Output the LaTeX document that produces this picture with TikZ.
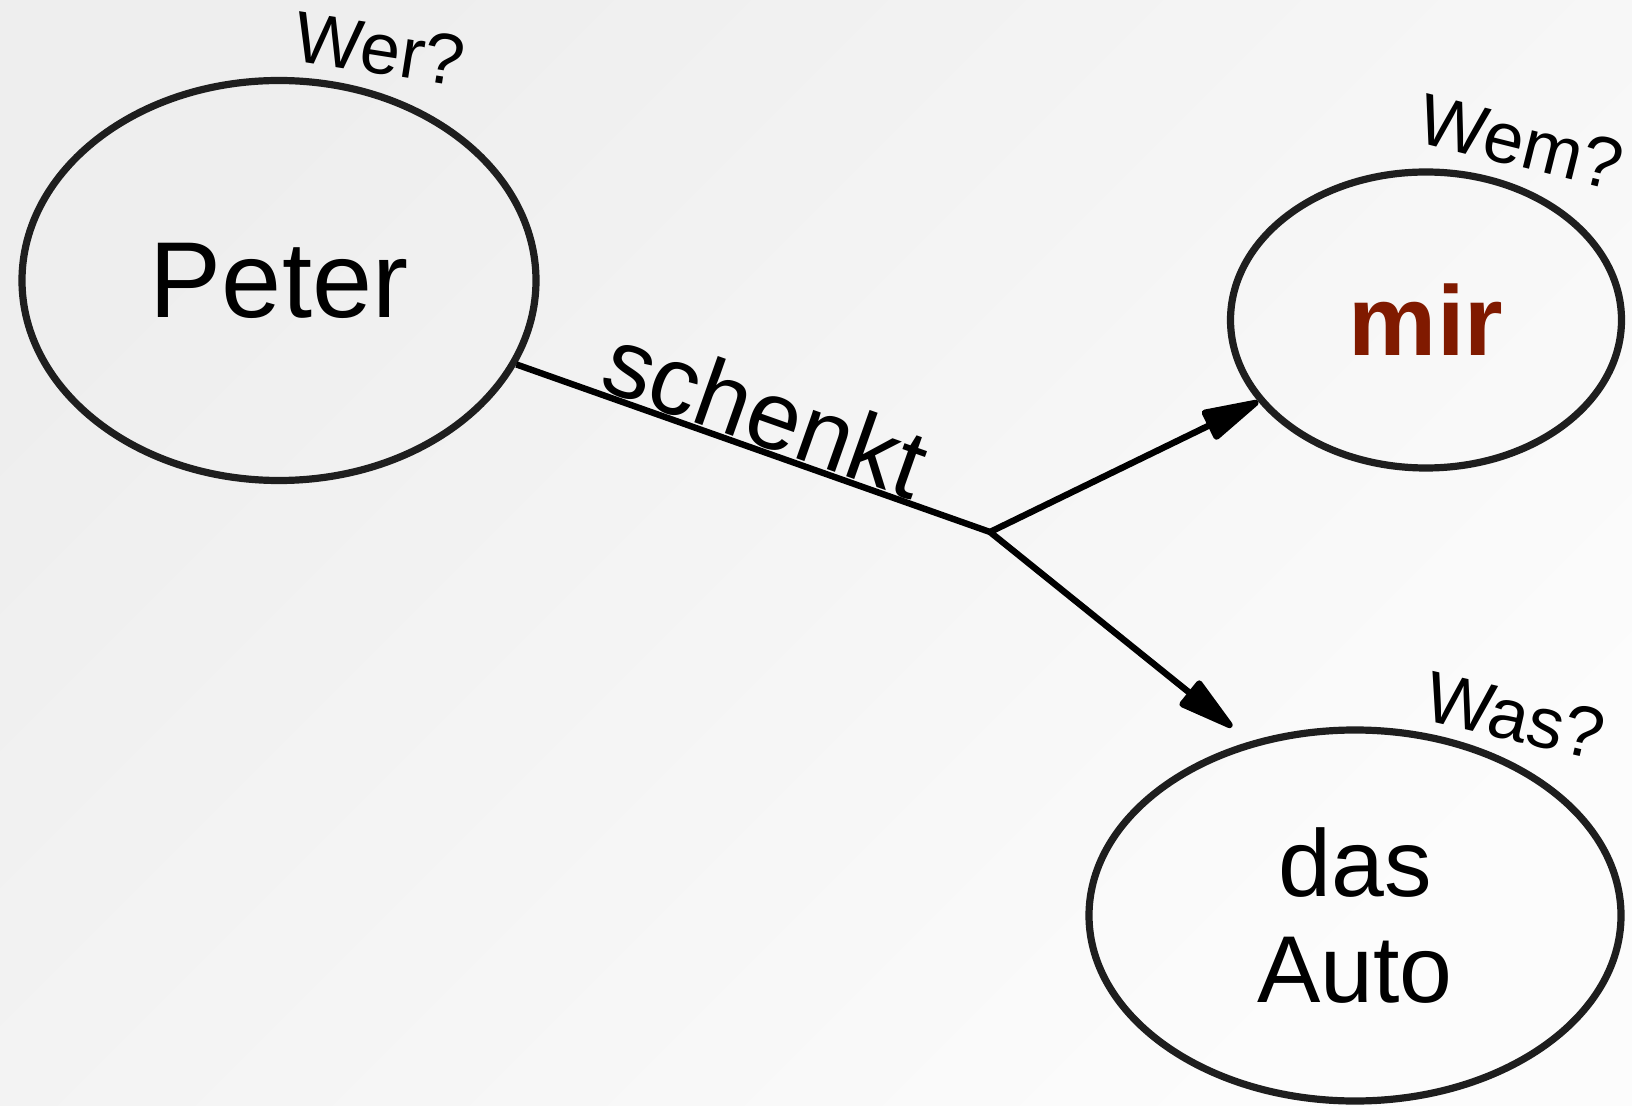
\documentclass[tikz,border=0pt]{standalone}
\usepackage{fontspec}
\setmainfont{Liberation Sans}
\usetikzlibrary{shapes.geometric,arrows.meta}

\definecolor{bgtop}{RGB}{238,238,238}
\definecolor{bgbottom}{RGB}{252,252,252}
\definecolor{mirred}{RGB}{128,26,0}
\definecolor{rim}{RGB}{30,30,30}

\tikzset{
    word/.style={shape=ellipse,draw=rim,line width=3.6pt,inner sep=0pt,align=center},
    ask/.style={inner sep=0pt,font=\fontsize{36}{44}\selectfont},
    plain/.style={draw=black,line width=3.2pt},
    link/.style={plain,-{Triangle[length=33pt,width=16.5pt,round]}}
}

\begin{document}
\begin{tikzpicture}[x=0.5pt,y=-0.5pt]
    \useasboundingbox (0,0) rectangle (1632,1106);
    \shade[top color=bgtop,bottom color=bgbottom,shading angle=45] (0,0) rectangle (1632,1106);

    \node[word,minimum width=257pt,minimum height=200pt,font=\fontsize{54}{62}\selectfont] (peter) at (279,280.5) {Peter};
    \node[word,minimum width=195.5pt,minimum height=148pt,font=\bfseries\fontsize{49.5}{58}\selectfont,text=mirred] (mir) at (1426,320) {mir};
    \node[word,minimum width=266pt,minimum height=185.5pt,font=\fontsize{47.5}{53}\selectfont] (auto) at (1355,915.5) {das\\Auto};

    \node[ask,rotate=-9] (wer) at (380,49) {Wer?};
    \node[ask,rotate=-14] (wem) at (1521,142) {Wem?};
    \node[ask,rotate=-13] (was) at (1515,716) {Was?};

    \coordinate (j) at (990,532);
    \coordinate (autotip) at (1232,727);

    \path (peter) edge[plain] node[sloped,above,midway,inner sep=0pt,font=\fontsize{48.5}{58}\selectfont] (verb) {schenkt} (j);
    \path (j) edge[link] (mir);
    \path (j) edge[link] (autotip);

\end{tikzpicture}
\end{document}
